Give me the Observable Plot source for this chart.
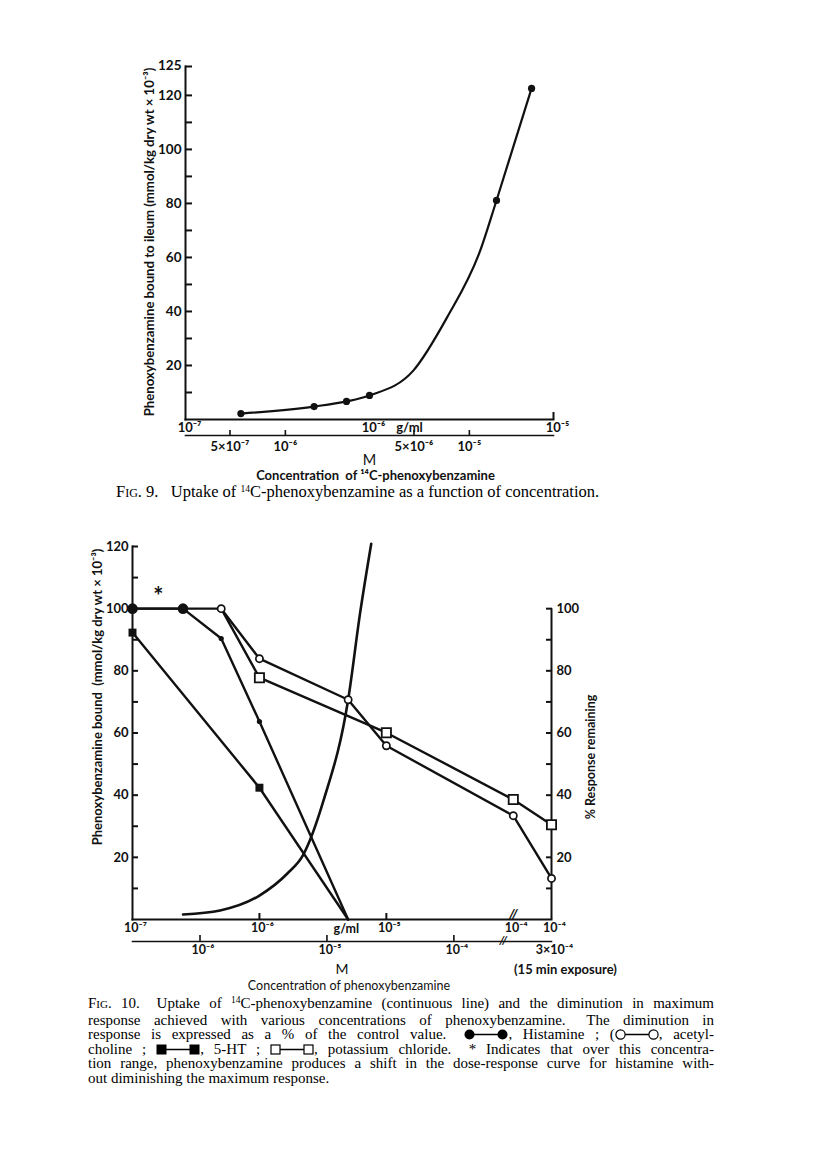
<!DOCTYPE html>
<html><head><meta charset="utf-8">
<script src="https://cdn.jsdelivr.net/npm/d3@7"></script>
<script src="https://cdn.jsdelivr.net/npm/@observablehq/plot@0.6"></script>
<style>
body{margin:0;background:#fff;}
#page{position:relative;width:816px;height:1156px;overflow:hidden;background:#fff;}
.fig{position:absolute;left:0;}
.fig svg{overflow:visible;}
.cap{position:absolute;font-family:"Liberation Serif","DejaVu Serif",serif;color:#000;}
.cap .ln{text-align:justify;text-align-last:justify;}
.cap .last{text-align:left;text-align-last:left;}
.sc{font-variant:small-caps;}
.sup{font-size:9.5px;position:relative;top:-5px;}
.sym{vertical-align:-1px;}
</style>
</head><body>
<div id="page">
  <div id="fig9" class="fig" style="top:0px"></div>
  <div class="cap" style="left:116px;top:484px;font-size:16.5px;line-height:16px;"><span class="sc">Fig.</span> 9.&ensp; Uptake of <span class="sup">14</span>C-phenoxybenzamine as a function of concentration.</div>
  <div id="fig10" class="fig" style="top:520px"></div>
  <div class="cap" style="left:88px;top:996px;width:626px;font-size:15px;line-height:14.6px;">
    <div class="ln"><span class="sc">Fig.</span> 10.&ensp; Uptake of <span class="sup">14</span>C-phenoxybenzamine (continuous line) and the diminution in maximum</div>
    <div class="ln">response achieved with various concentrations of phenoxybenzamine.&ensp; The diminution in</div>
    <div class="ln">response is expressed as a % of the control value.&ensp; <svg class="sym" width="44" height="11" viewBox="0 0 44 11"><line x1="5" y1="5.5" x2="39" y2="5.5" stroke="#000" stroke-width="1.3"/><circle cx="5.5" cy="5.5" r="5" fill="#000"/><circle cx="38.5" cy="5.5" r="5" fill="#000"/></svg>, Histamine ; (<svg class="sym" width="44" height="11" viewBox="0 0 44 11"><line x1="5" y1="5.5" x2="39" y2="5.5" stroke="#000" stroke-width="1.3"/><circle cx="5.5" cy="5.5" r="4.6" fill="#fff" stroke="#000" stroke-width="1.2"/><circle cx="38.5" cy="5.5" r="4.6" fill="#fff" stroke="#000" stroke-width="1.2"/></svg>, acetyl-</div>
    <div class="ln">choline ; <svg class="sym" width="44" height="11" viewBox="0 0 44 11"><line x1="5" y1="5.5" x2="39" y2="5.5" stroke="#000" stroke-width="1.3"/><rect x="0.5" y="0.5" width="10" height="10" fill="#000"/><rect x="33.5" y="0.5" width="10" height="10" fill="#000"/></svg>, 5-HT ; <svg class="sym" width="44" height="11" viewBox="0 0 44 11"><line x1="5" y1="5.5" x2="39" y2="5.5" stroke="#000" stroke-width="1.3"/><rect x="1" y="1" width="9" height="9" fill="#fff" stroke="#000" stroke-width="1.2"/><rect x="34" y="1" width="9" height="9" fill="#fff" stroke="#000" stroke-width="1.2"/></svg>, potassium chloride.&ensp; * Indicates that over this concentra-</div>
    <div class="ln">tion range, phenoxybenzamine produces a shift in the dose-response curve for histamine with-</div>
    <div class="ln last">out diminishing the maximum response.</div>
  </div>
</div>
<script>
// ---------- shared ----------
const MW = 340.3; // phenoxybenzamine HCl, g/mol
const molarToGml = m => m * MW / 1000; // mol/l -> g/ml, to place the molar axis on the g/ml scale

// ---------- Fig. 9 data ----------
const fig9DotX = [2e-7, 5e-7, 7.5e-7, 1e-6, 4.9e-6, 7.6e-6];          // g/ml
const fig9DotY = [2.2, 4.8, 6.7, 8.9, 81.1, 122.6];
const fig9CurveX = [2e-7, 5e-7, 7.5e-7, 1e-6, 1.73e-6, 2.64e-6, 4.0e-6, 4.9e-6, 7.6e-6];
const fig9CurveY = [2.2, 4.8, 6.7, 8.9, 18.1, 37.8, 62.6, 81.1, 122.6];
const fig9XDomain = [1e-7, 1e-5];
const fig9YDomain = [0, 130.7];
const fig9YTicks = [20, 40, 60, 80, 100, 120];
const fig9YMinor = [10, 30, 50, 70, 90, 110];
const fig9YTopLabel = "125";
const fig9GmlTicks = [1e-7, 1e-6, 1e-5];
const fig9GmlLabels = ["10⁻⁷", "10⁻⁶", "10⁻⁵"];
const fig9MTicks = [5e-7, 1e-6, 5e-6, 1e-5];                         // mol/l
const fig9MLabels = ["5×10⁻⁷", "10⁻⁶", "5×10⁻⁶", "10⁻⁵"];
const fig9YLabel = "Phenoxybenzamine bound to ileum (mmol/kg dry wt × 10⁻³)";
const fig9XLabel = "Concentration  of ¹⁴C-phenoxybenzamine";

// ---------- Fig. 10 data ----------
const X15 = 2e-4; // plotted position of the 15-min-exposure column (after the axis break)
const fig10XDomain = [1e-7, X15];
const fig10YDomain = [0, 120];
const histX = [1e-7, 2.5e-7, 5e-7, 1e-6, 5e-6];
const histY = [100, 100, 90.4, 63.7, 0];
const achX = [1e-7, 5e-7, 1e-6, 5e-6, 1e-5, 1e-4, X15];
const achY = [100, 100, 83.9, 70.7, 55.9, 33.4, 13.2];
const htX = [1e-7, 1e-6, 5e-6];
const htY = [92.3, 42.4, 0];
const kclX = [5e-7, 1e-6, 1e-5, 1e-4, X15];
const kclY = [100, 77.8, 60.1, 38.6, 30.5];
const uptakeX = [2.5e-7, 4.9e-7, 1e-6, 1.66e-6, 2.2e-6, 3.2e-6, 5e-6, 6.2e-6, 7.6e-6];
const uptakeY = [1.6, 2.9, 7.7, 14.8, 20.6, 38.3, 70.7, 98.4, 120.9];
const asterisk = {x: 1.6e-7, y: 103.5};
const fig10LeftTicks = [20, 40, 60, 80, 100, 120];
const fig10LeftMinor = [10, 30, 50, 70, 90, 110];
const fig10RightTicks = [20, 40, 60, 80, 100];
const fig10RightMinor = [10, 30, 50, 70, 90];
const fig10GmlTicks = [1e-7, 1e-6, 1e-5, 1e-4, X15];
const fig10GmlLabels = ["10⁻⁷", "10⁻⁶", "10⁻⁵", "10⁻⁴", "10⁻⁴"];
const fig10MTicks = [1e-6, 1e-5, 1e-4];                               // mol/l
const fig10MLabels = ["10⁻⁶", "10⁻⁵", "10⁻⁴", "3×10⁻⁴"];
const fig10YLabel = "Phenoxybenzamine bound  (mmol/kg dry wt × 10⁻³)";
const fig10Y2Label = "% Response remaining";
const fig10XLabel = "Concentration of phenoxybenzamine";

const sans = "Lato, 'DejaVu Sans', sans-serif";
const ink = "#111";
const pts = (xs, ys) => xs.map((x, i) => ({x, y: ys[i]}));
const lab = (ticks, labels) => d => labels[ticks.indexOf(d)];
const T = d => d;

// ---------- Fig. 9 ----------
const fig9MPos = fig9MTicks.map(molarToGml);
const fig9 = Plot.plot({
  width: 816, height: 484,
  marginLeft: 185, marginRight: 263, marginTop: 66, marginBottom: 65,
  x: {type: "log", domain: fig9XDomain, label: null},
  y: {domain: fig9YDomain, label: null},
  style: {fontFamily: sans, fontSize: "13px", fontWeight: "bold", color: ink, background: "white"},
  marks: [
    Plot.frame({anchor: "left", stroke: ink, strokeWidth: 2}),
    Plot.frame({anchor: "bottom", stroke: ink, strokeWidth: 2}),
    Plot.axisY({ticks: [...fig9YMinor, ...fig9YTicks, fig9YDomain[1]], tickSize: 7, dx: 7, stroke: ink, strokeWidth: 2, tickFormat: () => "", label: null}),
    Plot.axisY({ticks: fig9YTicks, tickSize: 0, tickPadding: 4, tickFormat: d => String(d), fontSize: 13.5, label: null}),
    Plot.text([fig9YTopLabel], {text: T, frameAnchor: "top-left", textAnchor: "end", lineAnchor: "middle", dx: -4, dy: -1, fontSize: 13.5}),
    Plot.axisX({ticks: [fig9XDomain[1]], tickSize: 7, dy: -7, stroke: ink, strokeWidth: 2, tickFormat: () => "", label: null}),
    Plot.axisX({ticks: fig9GmlTicks, tickSize: 0, tickPadding: 3, dx: 4, tickFormat: lab(fig9GmlTicks, fig9GmlLabels), fontSize: 13, label: null}),
    Plot.text(["g/ml"], {text: T, x: () => fig9GmlTicks[1], frameAnchor: "bottom", lineAnchor: "middle", textAnchor: "middle", dx: 40, dy: 8, fontSize: 13}),
    Plot.frame({anchor: "bottom", dy: 16, stroke: ink, strokeWidth: 1.6}),
    Plot.axisX({ticks: fig9MPos, tickSize: 5, dy: 11, stroke: ink, strokeWidth: 1.6, tickPadding: 6, dx: 2, tickFormat: lab(fig9MPos, fig9MLabels), fontSize: 13, label: null}),
    Plot.text(["M"], {text: T, frameAnchor: "bottom", lineAnchor: "middle", textAnchor: "middle", dy: 41, fontSize: 14.5, fontWeight: "normal"}),
    Plot.text([fig9XLabel], {text: T, frameAnchor: "bottom", lineAnchor: "middle", textAnchor: "middle", dy: 56, dx: 6, fontSize: 13}),
    Plot.text([fig9YLabel], {text: T, frameAnchor: "left", textAnchor: "middle", lineAnchor: "middle", rotate: -90, dx: -36, dy: -1, fontSize: 13.2}),
    Plot.line(pts(fig9CurveX, fig9CurveY), {x: "x", y: "y", curve: "monotone-x", stroke: ink, strokeWidth: 2.2}),
    Plot.dot(pts(fig9DotX, fig9DotY), {x: "x", y: "y", r: 3.6, fill: ink})
  ]
});
document.getElementById("fig9").append(fig9);

// ---------- Fig. 10 ----------
const fig10MPos = fig10MTicks.map(molarToGml);
const fig10MLabelPos = [...fig10MPos, X15];
const hist = pts(histX, histY), ach = pts(achX, achY), ht = pts(htX, htY), kcl = pts(kclX, kclY);
const fig10 = Plot.plot({
  width: 816, height: 472,
  marginLeft: 132, marginRight: 265, marginTop: 26, marginBottom: 73,
  x: {type: "log", domain: fig10XDomain, label: null},
  y: {domain: fig10YDomain, label: null},
  style: {fontFamily: sans, fontSize: "12px", fontWeight: "bold", color: ink, background: "white"},
  marks: [
    Plot.frame({anchor: "left", stroke: ink, strokeWidth: 2}),
    Plot.frame({anchor: "bottom", stroke: ink, strokeWidth: 2}),
    Plot.ruleX([fig10XDomain[1]], {y1: () => 0, y2: () => fig10RightTicks[fig10RightTicks.length - 1], stroke: ink, strokeWidth: 2}),
    Plot.axisY({ticks: [...fig10LeftMinor, ...fig10LeftTicks], tickSize: 6, dx: 6, stroke: ink, strokeWidth: 2, tickFormat: () => "", label: null}),
    Plot.axisY({ticks: fig10LeftTicks, tickSize: 0, tickPadding: 4, tickFormat: d => String(d), fontSize: 13, label: null}),
    Plot.axisY({anchor: "right", ticks: [...fig10RightMinor, ...fig10RightTicks], tickSize: 6, dx: -6, stroke: ink, strokeWidth: 2, tickFormat: () => "", label: null}),
    Plot.axisY({anchor: "right", ticks: fig10RightTicks, tickSize: 0, tickPadding: 5, tickFormat: d => String(d), fontSize: 13, label: null}),
    Plot.axisX({ticks: [fig10GmlTicks[1], fig10GmlTicks[2]], tickSize: 6, dy: -6, stroke: ink, strokeWidth: 2, tickFormat: () => "", label: null}),
    Plot.axisX({ticks: fig10GmlTicks, tickSize: 0, tickPadding: 4, dx: 3, tickFormat: lab(fig10GmlTicks, fig10GmlLabels), fontSize: 12.5, label: null}),
    Plot.text(["g/ml"], {text: T, x: () => fig10GmlTicks[2], frameAnchor: "bottom", lineAnchor: "middle", textAnchor: "middle", dx: -40, dy: 9, fontSize: 12.5}),
    Plot.text(["//"], {text: T, x: () => fig10GmlTicks[3], frameAnchor: "bottom", lineAnchor: "middle", textAnchor: "middle", dy: -5, fontSize: 14, fontStyle: "italic"}),
    Plot.frame({anchor: "bottom", dy: 22, stroke: ink, strokeWidth: 1.6}),
    Plot.axisX({ticks: fig10MPos, tickSize: 6, dy: 16, stroke: ink, strokeWidth: 1.6, tickFormat: () => "", label: null}),
    Plot.axisX({ticks: fig10MLabelPos, tickSize: 0, dy: 22, tickPadding: 4, dx: 3, tickFormat: lab(fig10MLabelPos, fig10MLabels), fontSize: 12.5, label: null}),
    Plot.text(["//"], {text: T, x: () => fig10GmlTicks[3], frameAnchor: "bottom", lineAnchor: "middle", textAnchor: "middle", dx: -10, dy: 21, fontSize: 12, fontStyle: "italic"}),
    Plot.text(["M"], {text: T, frameAnchor: "bottom", lineAnchor: "middle", textAnchor: "middle", dy: 50, fontSize: 14, fontWeight: "normal"}),
    Plot.text(["(15 min exposure)"], {text: T, x: () => X15, frameAnchor: "bottom", lineAnchor: "middle", textAnchor: "middle", dy: 50, dx: 14, fontSize: 13}),
    Plot.text([fig10XLabel], {text: T, frameAnchor: "bottom", lineAnchor: "middle", textAnchor: "middle", dy: 66, dx: 7, fontSize: 12.5, fontWeight: "normal"}),
    Plot.text([fig10YLabel], {text: T, frameAnchor: "left", textAnchor: "middle", lineAnchor: "middle", rotate: -90, dx: -35, dy: -36, fontSize: 13}),
    Plot.text([fig10Y2Label], {text: T, frameAnchor: "right", textAnchor: "middle", lineAnchor: "middle", rotate: -90, dx: 39, dy: 24, fontSize: 12.5}),
    Plot.text([asterisk], {x: "x", y: "y", text: () => "*", fontSize: 24}),
    // series lines
    Plot.line(pts(uptakeX, uptakeY), {x: "x", y: "y", curve: "monotone-x", stroke: ink, strokeWidth: 2.6}),
    Plot.line(kcl, {x: "x", y: "y", stroke: ink, strokeWidth: 2.4}),
    Plot.line(ach, {x: "x", y: "y", stroke: ink, strokeWidth: 2.4}),
    Plot.line(ht, {x: "x", y: "y", stroke: ink, strokeWidth: 2.4}),
    Plot.line(hist, {x: "x", y: "y", stroke: ink, strokeWidth: 2.4}),
    // markers (first KCl point is hidden under the acetylcholine circle)
    Plot.dot(kcl.slice(1), {x: "x", y: "y", symbol: "square", r: 5.2, fill: "white", stroke: ink, strokeWidth: 1.8}),
    Plot.dot(ach, {x: "x", y: "y", r: 3.6, fill: "white", stroke: ink, strokeWidth: 1.7}),
    Plot.dot(ht.slice(0, 2), {x: "x", y: "y", symbol: "square", r: 4.5, fill: ink}),
    Plot.dot(hist.slice(0, 2), {x: "x", y: "y", r: 5.3, fill: ink}),
    Plot.dot(hist.slice(2, 4), {x: "x", y: "y", r: 2.6, fill: ink})
  ]
});
document.getElementById("fig10").append(fig10);
</script>
</body></html>
